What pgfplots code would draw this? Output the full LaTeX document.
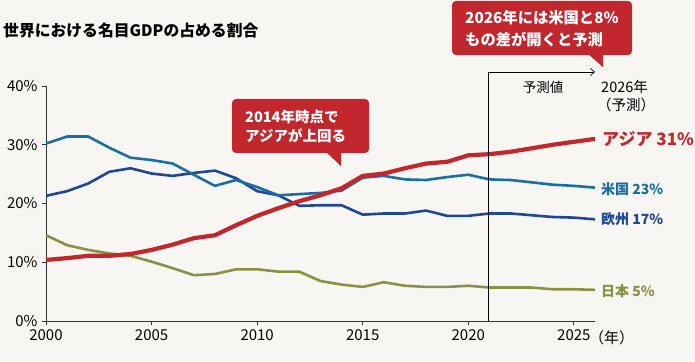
\documentclass[border=0pt]{standalone}
\usepackage{fontspec}
\setmainfont{Noto Sans CJK JP}
\usepackage{pgfplots}
\pgfplotsset{compat=1.18}
\usetikzlibrary{arrows.meta}
\definecolor{bg}{HTML}{F7F6F2}
\definecolor{asia}{HTML}{C1272D}
\definecolor{us}{HTML}{1A6FA0}
\definecolor{eu}{HTML}{1E4797}
\definecolor{jp}{HTML}{8B9142}
\definecolor{axc}{HTML}{333333}
\pgfplotstableread{
yr asia us eu jp
2000 10.4 30.2 21.3 14.6
2001 10.7 31.4 22.1 12.9
2002 11.1 31.4 23.4 12.1
2003 11.1 29.5 25.4 11.5
2004 11.4 27.8 26.0 11.1
2005 12.1 27.4 25.1 10.1
2006 13.0 26.8 24.7 9.0
2007 14.1 24.9 25.2 7.8
2008 14.6 23.0 25.6 8.0
2009 16.3 24.0 24.3 8.8
2010 17.9 22.8 22.1 8.8
2011 19.2 21.4 21.4 8.4
2012 20.4 21.6 19.6 8.4
2013 21.4 21.8 19.7 6.8
2014 22.6 22.2 19.7 6.2
2015 24.7 24.4 18.1 5.8
2016 25.1 24.7 18.3 6.6
2017 26.0 24.1 18.3 6.0
2018 26.8 24.0 18.8 5.8
2019 27.1 24.5 17.9 5.8
2020 28.2 24.9 17.9 6.0
2021 28.4 24.1 18.3 5.7
2022 28.8 24.0 18.3 5.7
2023 29.4 23.6 18.0 5.7
2024 30.0 23.2 17.7 5.4
2025 30.5 23.0 17.6 5.4
2026 31.0 22.7 17.3 5.3
}\gdpdata
\begin{document}
\begin{tikzpicture}
\fill[bg] (0pt,0pt) rectangle (695pt,361pt);
\begin{axis}[
  at={(46pt,40pt)}, anchor=south west,
  scale only axis, width=549pt, height=235pt,
  xmin=2000, xmax=2026, ymin=0, ymax=40,
  axis lines=left, axis line style={axc, line width=0.8pt, -},
  clip=false,
  xtick={2000,2005,2010,2015,2020,2025},
  ytick={0,10,20,30,40},
  tick align=outside, major tick length=4pt,
  tick style={axc, line width=0.8pt},
  xticklabel style={/pgf/number format/1000 sep=, font=\fontsize{15}{15}\selectfont, yshift=-1pt},
  yticklabel={\pgfmathprintnumber{\tick}\%},
  yticklabel style={font=\fontsize{15}{15}\selectfont, xshift=-1pt},
  /pgf/number format/assume math mode=true,
]
\addplot[jp, line width=2.6pt, line join=round] table[x=yr,y=jp]{\gdpdata};
\addplot[eu, line width=2.6pt, line join=round] table[x=yr,y=eu]{\gdpdata};
\addplot[us, line width=2.6pt, line join=round] table[x=yr,y=us]{\gdpdata};
\addplot[asia, line width=4.2pt, line join=round] table[x=yr,y=asia]{\gdpdata};
\node[anchor=west, text=asia, font=\fontsize{17}{17}\selectfont\bfseries, inner sep=0pt] at (axis cs:2026,31.0) [xshift=7pt] {アジア 31\%};
\node[anchor=west, text=us, font=\fontsize{14}{14}\selectfont\bfseries, inner sep=0pt] at (axis cs:2026,22.5) [xshift=6pt] {米国 23\%};
\node[anchor=west, text=eu, font=\fontsize{14}{14}\selectfont\bfseries, inner sep=0pt] at (axis cs:2026,17.3) [xshift=6pt] {欧州 17\%};
\node[anchor=west, text=jp, font=\fontsize{14}{14}\selectfont\bfseries, inner sep=0pt] at (axis cs:2026,5.1) [xshift=6pt] {日本 5\%};
\end{axis}
% title
\node[anchor=west, font=\fontsize{15.8}{16}\selectfont\bfseries, inner sep=0pt] at (3pt,330pt) {世界における名目GDPの占める割合};
% year unit
\node[anchor=west, font=\fontsize{15}{15}\selectfont, inner sep=0pt] at (589pt,23pt) {（年）};
% forecast marker
\draw[black, line width=0.7pt, -{Straight Barb[length=4pt,width=7pt]}] (488pt,40pt) -- (488pt,289pt) -- (595pt,289pt);
\node[font=\fontsize{13.5}{13.5}\selectfont, inner sep=0pt] at (543pt,274pt) {予測値};
\node[anchor=west, font=\fontsize{14.5}{14.5}\selectfont, inner sep=0pt] at (601pt,274pt) {2026年};
\node[anchor=west, font=\fontsize{14.5}{14.5}\selectfont, inner sep=0pt] at (597pt,256pt) {（予測）};
% callout 1
\fill[asia, rounded corners=4pt] (232pt,208pt) rectangle (369pt,262pt);
\fill[asia] (326pt,209pt) -- (341pt,209pt) -- (341pt,195pt) -- cycle;
\node[text=white, font=\fontsize{14.5}{19}\selectfont\bfseries, align=left, inner sep=0pt, anchor=west] at (245pt,235pt) {2014年時点で\\アジアが上回る};
% callout 2
\fill[asia, rounded corners=4pt] (452pt,306pt) rectangle (632pt,360pt);
\fill[asia] (588pt,307pt) -- (603pt,307pt) -- (603pt,294pt) -- cycle;
\node[text=white, font=\fontsize{15.3}{22}\selectfont\bfseries, align=left, inner sep=0pt, anchor=west] at (465pt,332pt) {2026年には米国と8\%\\もの差が開くと予測};
\end{tikzpicture}
\end{document}
